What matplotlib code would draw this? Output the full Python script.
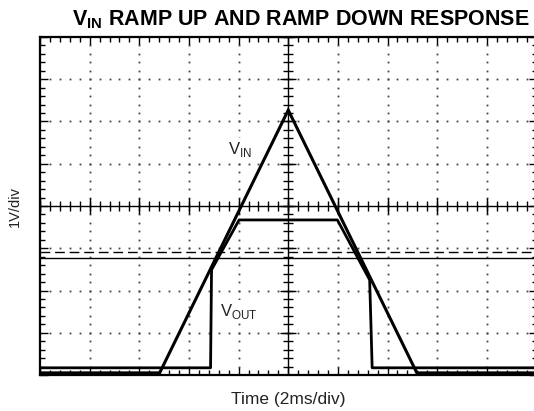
import numpy as np
import matplotlib.pyplot as plt

plt.rcParams['font.family'] = ['Liberation Sans', 'DejaVu Sans']
plt.rcParams['mathtext.fontset'] = 'custom'
plt.rcParams['mathtext.rm'] = 'Liberation Sans'
plt.rcParams['mathtext.bf'] = 'Liberation Sans:bold'

# scope traces: time in ms (2ms/div), volts (1V/div)
vin_t = [-10, -5.18, 0.0, 5.18, 10]
vin_v = [0.05, 0.05, 6.27, 0.05, 0.05]

vout_t = [-10, -3.13, -3.09, -1.98, 1.98, 3.28, 3.38, 10]
vout_v = [0.17, 0.17, 2.49, 3.67, 3.67, 2.25, 0.17, 0.17]

uvlo_dashed = 2.91
uvlo_solid = 2.77

fig = plt.figure(figsize=(5.34, 4.11), dpi=100)
ax = fig.add_axes([40/534, 36/411, 496.5/534, 338/411])
ax.set_xlim(-10, 10)
ax.set_ylim(0, 8)

xmaj = np.arange(-10, 10.01, 2)
ymaj = np.arange(0, 8.01, 1)
xmin = np.arange(-10, 10.01, 0.4)
ymin = np.arange(0, 8.01, 0.2)

# dotted graticule
gc = '#444444'
for x in xmaj[1:-1]:
    if x != 0:
        ax.plot(np.full_like(ymin, x), ymin, ls='none', marker='s', ms=1.3, mew=0, color=gc)
for y in ymaj[1:-1]:
    if y != 4:
        ax.plot(xmin, np.full_like(xmin, y), ls='none', marker='s', ms=1.3, mew=0, color=gc)

# center cross with tick marks
ax.axvline(0, color='black', lw=1)
ax.axhline(4, color='black', lw=1)
ax.plot(np.zeros_like(ymin), ymin, ls='none', marker='_', ms=7, mew=1, color='black')
ax.plot(xmin, np.full_like(xmin, 4), ls='none', marker='|', ms=7, mew=1, color='black')
ax.plot(np.zeros_like(ymaj), ymaj, ls='none', marker='_', ms=11, mew=1, color='black')
ax.plot(xmaj, np.full_like(xmaj, 4.0), ls='none', marker='|', ms=11, mew=1, color='black')

# threshold lines
ax.axhline(uvlo_dashed, color='black', lw=1, dashes=(7, 3.5))
ax.axhline(uvlo_solid, color='black', lw=1)

ax.plot(vin_t, vin_v, color='black', lw=2.2, solid_joinstyle='miter')
ax.plot(vout_t, vout_v, color='black', lw=2.0)

box = dict(facecolor='white', edgecolor='none', pad=1.5)
ax.text(-1.95, 5.33, r'V$_{\mathrm{IN}}$', fontsize=12, ha='center', va='center',
        color='#222222', bbox=box, zorder=5)
ax.text(-2.0, 1.5, r'V$_{\mathrm{OUT}}$', fontsize=12, ha='center', va='center',
        color='#222222', bbox=box, zorder=5)

ax.set_xticks(xmaj)
ax.set_yticks(ymaj)
ax.set_xticks(xmin, minor=True)
ax.set_yticks(ymin, minor=True)
ax.tick_params(which='both', direction='in', top=True, right=True,
               labelbottom=False, labelleft=False, width=1, color='black')
ax.tick_params(which='major', length=6)
ax.tick_params(which='minor', length=3.5)
for s in ax.spines.values():
    s.set_linewidth(1.6)

ax.set_xlabel('Time (2ms/div)', fontsize=12.5, color='#222222', labelpad=12)
ax.set_ylabel('1V/div', fontsize=10.5, color='#222222', labelpad=13)

fig.text(0.563, 0.953, r'V$_{\mathbf{IN}}$ RAMP UP AND RAMP DOWN RESPONSE',
         fontsize=15.5, fontweight='bold', ha='center', va='center')

fig.savefig('out.png', dpi=100)
